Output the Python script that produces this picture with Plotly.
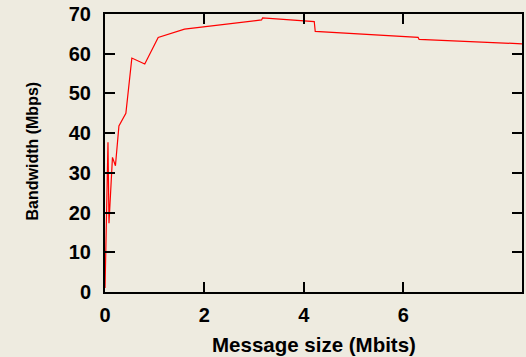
import plotly.graph_objects as go

msg_size_mbits = [0.001, 0.01, 0.03, 0.06, 0.08, 0.15, 0.21, 0.28, 0.42, 0.54, 0.80, 1.07,
                  1.60, 2.02, 3.15, 3.17, 4.21, 4.23, 6.30, 6.32, 8.39]
bandwidth_mbps = [1.0, 8.0, 20.0, 37.7, 17.3, 33.9, 31.8, 41.8, 45.0, 58.9, 57.4, 64.1,
                  66.2, 66.8, 68.5, 69.0, 68.1, 65.6, 64.1, 63.6, 62.5]

x_ticks = [0, 2, 4, 6]
y_ticks = [0, 10, 20, 30, 40, 50, 60, 70]

bg = "#EEEBE0"
W, H = 526, 357
L, R, T, B = 105, 4, 14, 65

fig = go.Figure(go.Scatter(x=msg_size_mbits, y=bandwidth_mbps, mode="lines",
                           line=dict(color="#FF0000", width=1.2)))

axis_common = dict(showgrid=False, zeroline=False, showline=True, linecolor="black", linewidth=2,
                   mirror="ticks", ticks="inside", ticklen=10, tickwidth=2, tickcolor="black",
                   automargin=False, ticklabeloverflow="allow",
                   tickfont=dict(family="Liberation Sans", size=20, color="black", weight="bold"))

fig.update_layout(
    width=W, height=H, margin=dict(l=L, r=R, t=T, b=B),
    paper_bgcolor=bg, plot_bgcolor=bg, showlegend=False,
    xaxis=dict(range=[0, 8.39], tickvals=x_ticks, ticktext=[str(v) for v in x_ticks],
               ticklabelstandoff=4, **axis_common),
    yaxis=dict(range=[0, 70], tickvals=y_ticks, ticktext=[str(v) for v in y_ticks],
               ticklabelstandoff=8, **axis_common),
)

pw, ph = W - L - R, H - T - B
title_font = dict(family="Liberation Sans", color="black", weight="bold")
fig.add_annotation(text="Message size (Mbits)", xref="paper", yref="paper",
                   x=(314 - L) / pw, y=-(344 - (H - B)) / ph,
                   showarrow=False, xanchor="center", yanchor="middle",
                   font=dict(size=20.5, **title_font))
fig.add_annotation(text="Bandwidth (Mbps)", xref="paper", yref="paper",
                   x=-(L - 32) / pw, y=1 - (151.5 - T) / ph,
                   showarrow=False, xanchor="center", yanchor="middle", textangle=-90,
                   font=dict(size=16, **title_font))

fig.write_html("out.html", config={"displayModeBar": False},
               post_script="document.body.style.margin='0';document.body.style.overflow='hidden';")
